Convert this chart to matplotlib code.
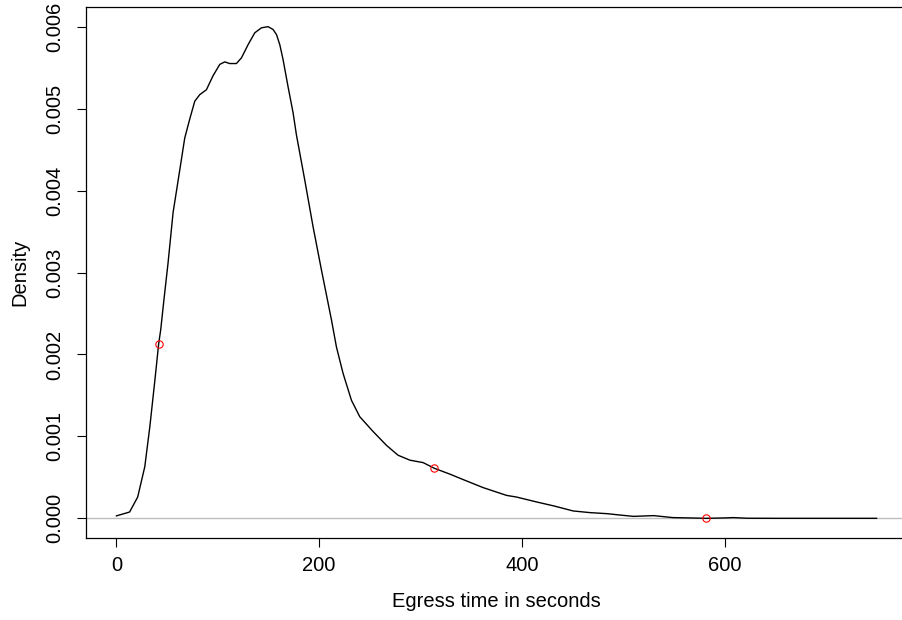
import matplotlib.pyplot as plt
import numpy as np

plt.rcParams['font.family'] = ['Liberation Sans', 'DejaVu Sans']

# density curve
egress_x = [0, 13, 21, 28, 33, 38, 41.7, 43.7, 47, 50.9, 55.9, 62.5, 67.4, 72.3, 77.3,
            82.2, 88.8, 95.3, 102, 106.9, 111.8, 118.4, 123.4, 129.9, 136.5, 143.1,
            149.6, 154.5, 157.9, 161.2, 164.4, 169.3, 174.3, 177.6, 185.8, 194, 202.3,
            212.2, 217.1, 223.6, 231.9, 240.1, 253.2, 266.5, 277.9, 289.5, 302.6, 313.8,
            328.9, 342.7, 361.8, 384.9, 394.7, 414.5, 432, 450.6, 467, 484, 497, 510,
            530, 549, 565, 582, 600, 609, 622, 650, 700, 750]
density = [0.00003, 0.000077, 0.00026, 0.00063, 0.00112, 0.00169, 0.00213, 0.0023,
           0.00268, 0.00311, 0.00373, 0.00425, 0.00464, 0.00487, 0.00509, 0.00517,
           0.00523, 0.0054, 0.00554, 0.00557, 0.00555, 0.00555, 0.00562, 0.00578,
           0.005925, 0.005986, 0.006, 0.005966, 0.005905, 0.00578, 0.0056, 0.00527,
           0.00495, 0.00468, 0.00413, 0.00356, 0.00303, 0.00242, 0.00209, 0.00177,
           0.00144, 0.00124, 0.00106, 0.00089, 0.00077, 0.00071, 0.00068, 0.00061,
           0.00054, 0.00047, 0.000375, 0.00028, 0.00026, 0.0002, 0.00015, 0.00009,
           0.00007, 0.000057, 0.00004, 0.000024, 0.000033, 0.000009, 0.000005, 0.0,
           0.000005, 0.000009, 0.000001, 0.0, 0.0, 0.0]

# highlighted points
pt_x = [41.7, 313.8, 581.6]
pt_y = [0.00213, 0.000611, 0.0]

fig = plt.figure(figsize=(9.03, 6.2), dpi=100)
ax = fig.add_axes([86 / 903, 1 - 538 / 620, 821 / 903, 531 / 620])

ax.axhline(0, color="#bebebe", lw=1.0, zorder=1)
ax.plot(egress_x, density, color="black", lw=1.0, zorder=2)
ax.plot(pt_x, pt_y, linestyle="none", marker="o", markersize=5.3,
        markerfacecolor="none", markeredgecolor="red", markeredgewidth=0.8, zorder=3)

ax.set_xlim(-30, 780)
ax.set_ylim(-0.00024, 0.00624)
ax.set_xticks([0, 200, 400, 600])
ax.set_yticks([0.0, 0.001, 0.002, 0.003, 0.004, 0.005, 0.006])
ax.set_yticklabels(["0.000", "0.001", "0.002", "0.003", "0.004", "0.005", "0.006"],
                   rotation=90, va="center")
ax.tick_params(direction="out", length=6.3, width=0.8, labelsize=14.5, pad=7)
ax.tick_params(axis="y", pad=9)
for s in ax.spines.values():
    s.set_linewidth(0.9)
ax.spines["right"].set_visible(False)

ax.set_xlabel("Egress time in seconds", fontsize=14.5, labelpad=12)
ax.set_ylabel("Density", fontsize=14.5, labelpad=12)

fig.savefig("out.png", dpi=100)
